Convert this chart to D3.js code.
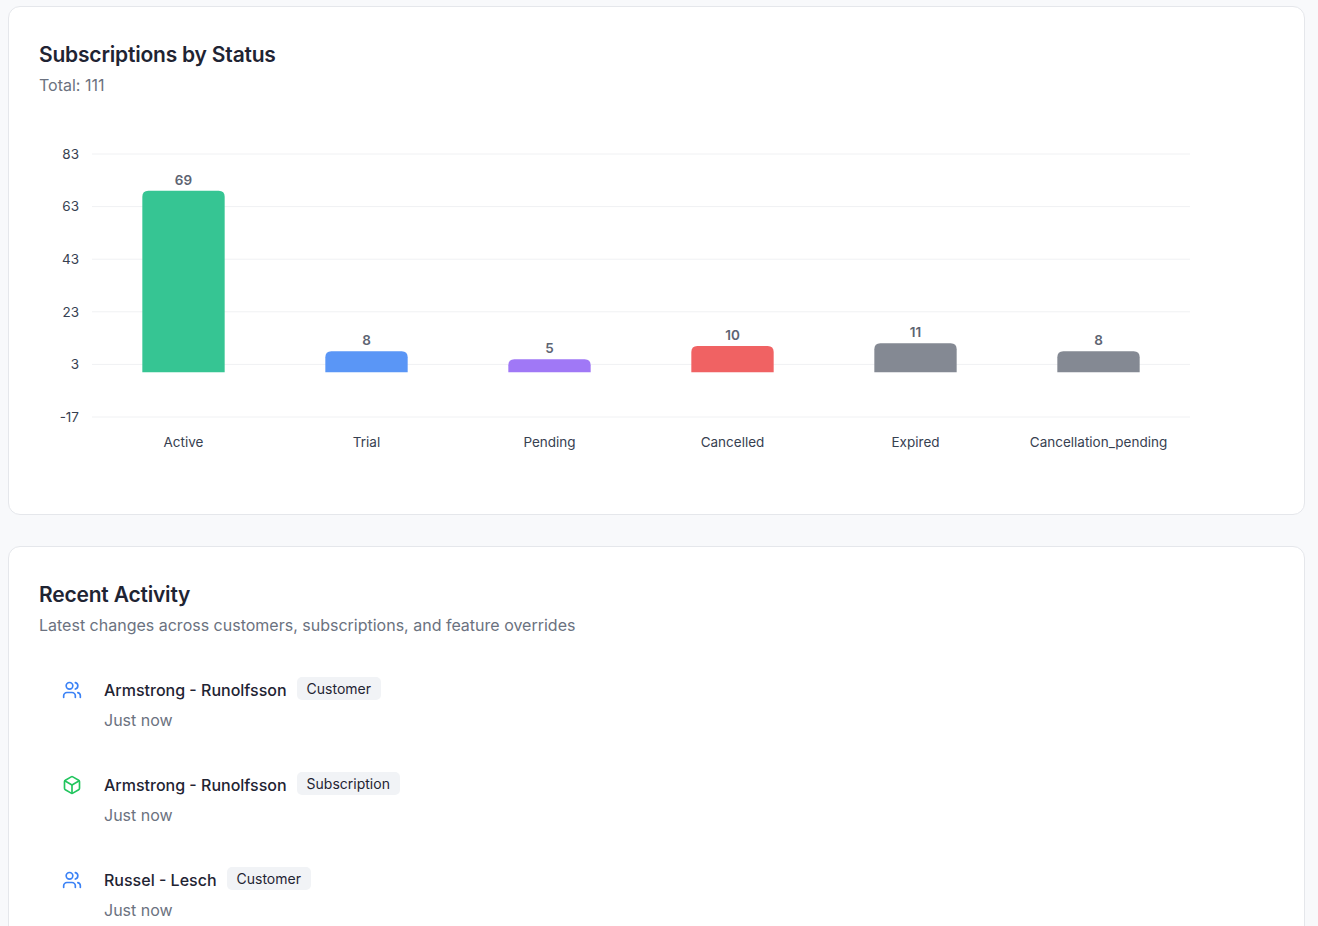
<!DOCTYPE html>
<html>
<head>
<meta charset="utf-8">
<script src="https://cdn.jsdelivr.net/npm/d3@7"></script>
<style>
  html, body { margin: 0; padding: 0; }
  body {
    width: 1318px; height: 926px; overflow: hidden;
    background: #f8f9fb;
    font-family: Inter, "Noto Sans", sans-serif;
    position: relative;
  }
  .card {
    position: absolute; left: 8px; width: 1295px;
    background: #fff; border: 1px solid #e5e7eb; border-radius: 12px;
  }
  #chart-card { top: 6px; height: 507px; }
  #activity-card { top: 546px; height: 420px; }
  .title { position: absolute; left: 30px; font-size: 21px; font-weight: 600; color: #1f2433; margin: 0; letter-spacing: -0.2px; }
  .sub { position: absolute; left: 30px; font-size: 16px; color: #6b7280; margin: 0; }
  svg { position: absolute; left: 0; top: 0; }
  .item { position: absolute; left: 0; height: 60px; width: 800px; }
  .item .name { position: absolute; left: 95px; top: 0; font-size: 16px; font-weight: 500; color: #1f2433; white-space: nowrap; }
  .item .badge { position: absolute; top: -3px; padding: 3px 10px; background: #f1f3f6; border-radius: 5px; font-size: 14px; color: #1f2433; white-space: nowrap; }
  .item .time { position: absolute; left: 95px; top: 30px; font-size: 16px; color: #6b7280; }
  .item svg.icon { position: absolute; left: 53px; top: 0px; }
</style>
</head>
<body>
<div class="card" id="chart-card">
  <h2 class="title" style="top:35px">Subscriptions by Status</h2>
  <p class="sub" style="top:68px">Total: 111</p>
</div>
<div class="card" id="activity-card">
  <h2 class="title" style="top:35px">Recent Activity</h2>
  <p class="sub" style="top:68px">Latest changes across customers, subscriptions, and feature overrides</p>
</div>
<script>
// chart data
const statuses = ["Active", "Trial", "Pending", "Cancelled", "Expired", "Cancellation_pending"];
const counts = [69, 8, 5, 10, 11, 8];
const barColors = ["#36c593", "#5a96f6", "#a078f6", "#f06263", "#848993", "#848993"];
const yTicks = [-17, 3, 23, 43, 63, 83];

// activity feed
const activityNames = ["Armstrong - Runolfsson", "Armstrong - Runolfsson", "Russel - Lesch"];
const activityTypes = ["Customer", "Subscription", "Customer"];
const activityTimes = ["Just now", "Just now", "Just now"];

(function(){
  const card = d3.select('#chart-card');
  const W = 1295, H = 507;
  const M = { left: 83, right: 1181, top: 147, bottom: 410 };

  const svg = card.append('svg')
    .attr('width', W).attr('height', H);

  const x = d3.scaleBand().domain(statuses).range([M.left, M.right]).paddingInner(0.55).paddingOuter(0.275);
  const y = d3.scaleLinear().domain([-17, 83]).range([M.bottom, M.top]);

  // grid
  svg.append('g')
    .selectAll('line').data(yTicks).join('line')
    .attr('x1', M.left).attr('x2', M.right)
    .attr('y1', d => y(d)).attr('y2', d => y(d))
    .attr('stroke', '#f0f1f3').attr('stroke-width', 1);

  // y axis
  const yAxis = svg.append('g')
    .attr('transform', `translate(${M.left},0)`)
    .call(d3.axisLeft(y).tickValues(yTicks).tickFormat(d => String(d)).tickSize(0).tickPadding(13));
  yAxis.select('.domain').remove();
  yAxis.selectAll('text').attr('font-size', 13.5).attr('fill', '#374151').attr('font-family', 'Inter, sans-serif');

  // x axis labels
  const xAxis = svg.append('g')
    .attr('transform', `translate(0,${M.bottom})`)
    .call(d3.axisBottom(x).tickSize(0).tickPadding(20));
  xAxis.select('.domain').remove();
  xAxis.selectAll('text').attr('font-size', 13.5).attr('fill', '#374151').attr('font-family', 'Inter, sans-serif');

  const r = 6;
  function barPath(d, i) {
    const x0 = x(statuses[i]), w = x.bandwidth();
    const yt = y(d), yb = y(0);
    const rr = Math.min(r, (yb - yt));
    return `M${x0},${yb}V${yt + rr}Q${x0},${yt} ${x0 + rr},${yt}H${x0 + w - rr}Q${x0 + w},${yt} ${x0 + w},${yt + rr}V${yb}Z`;
  }

  svg.append('g')
    .selectAll('path').data(counts).join('path')
    .attr('d', barPath)
    .attr('fill', (d, i) => barColors[i]);

  svg.append('g')
    .selectAll('text').data(counts).join('text')
    .attr('x', (d, i) => x(statuses[i]) + x.bandwidth() / 2)
    .attr('y', d => y(d) - 6)
    .attr('text-anchor', 'middle')
    .attr('font-size', 13.5).attr('font-weight', 600)
    .attr('fill', '#5d6472')
    .text(d => d);
})();

(function(){
  const card = d3.select('#activity-card');
  const icons = {
    Customer: { color: '#3b82f6', paths: [
      'M16 21v-2a4 4 0 0 0-4-4H6a4 4 0 0 0-4 4v2',
      'M22 21v-2a4 4 0 0 0-3-3.87',
      'M16 3.13a4 4 0 0 1 0 7.75'
    ], circle: true },
    Subscription: { color: '#22c55e', paths: [
      'M21 8a2 2 0 0 0-1-1.73l-7-4a2 2 0 0 0-2 0l-7 4A2 2 0 0 0 3 8v8a2 2 0 0 0 1 1.73l7 4a2 2 0 0 0 2 0l7-4A2 2 0 0 0 21 16Z',
      'm3.3 7 8.7 5 8.7-5',
      'M12 22V12'
    ], circle: false }
  };

  activityNames.forEach((name, i) => {
    const item = card.append('div').attr('class', 'item').style('top', (133 + i * 95) + 'px');
    const ic = icons[activityTypes[i]];
    const s = item.append('svg').attr('class', 'icon')
      .attr('width', 20).attr('height', 20).attr('viewBox', '0 0 24 24')
      .attr('fill', 'none').attr('stroke', ic.color).attr('stroke-width', 2)
      .attr('stroke-linecap', 'round').attr('stroke-linejoin', 'round');
    ic.paths.forEach(p => s.append('path').attr('d', p));
    if (ic.circle) s.append('circle').attr('cx', 9).attr('cy', 7).attr('r', 4);

    const n = item.append('span').attr('class', 'name').text(name);
    const w = n.node().getBoundingClientRect().width;
    item.append('span').attr('class', 'badge').style('left', (95 + w + 10) + 'px').text(activityTypes[i]);
    item.append('span').attr('class', 'time').text(activityTimes[i]);
  });
})();
</script>
</body>
</html>
